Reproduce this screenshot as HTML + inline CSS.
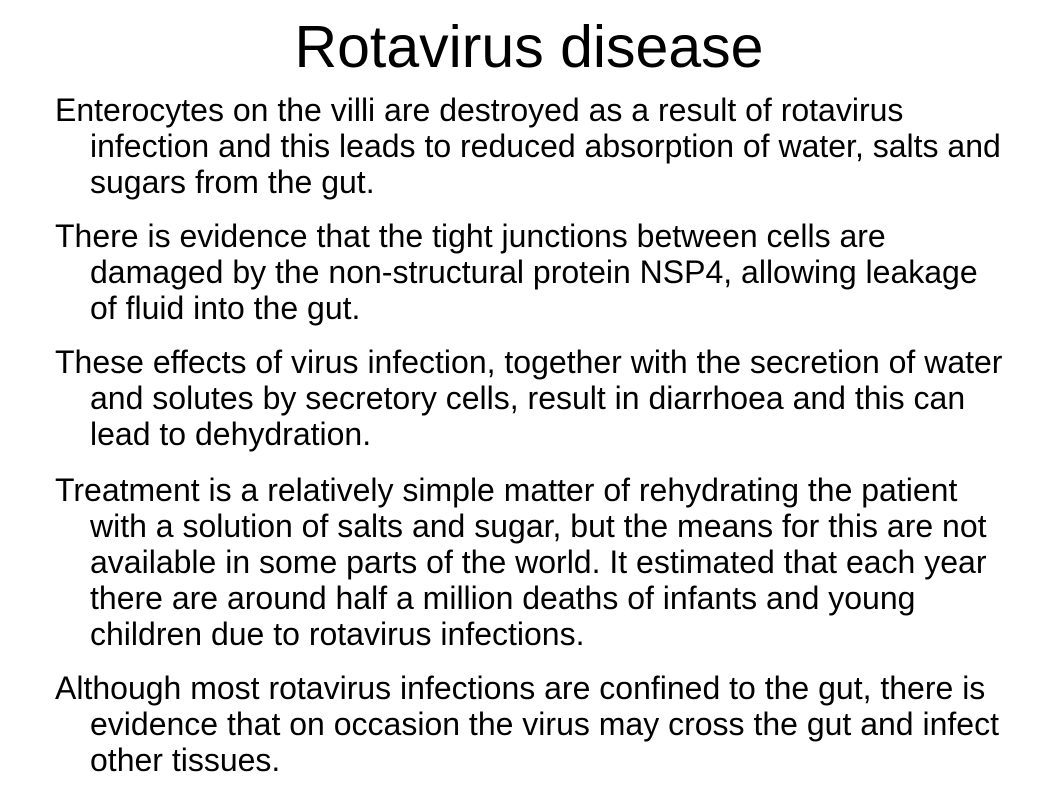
<!DOCTYPE html>
<html><head><meta charset="utf-8"><style>
body{margin:0;width:1058px;height:794px;background:#fff;overflow:hidden;position:relative;font-family:"Liberation Sans",Arial,sans-serif;color:#000}
.t{position:absolute;left:0;width:1058px;text-align:center;top:12px;font-size:59px;line-height:70px}
.l{position:absolute;font-size:32px;line-height:36px;white-space:nowrap}
.f{left:55px}.c{left:90px}
</style></head><body>
<div class="t">Rotavirus disease</div>
<div>
<div class="l f" style="top:92px">Enterocytes on the villi are destroyed as a result of rotavirus</div>
<div class="l c" style="top:128px">infection and this leads to reduced absorption of water, salts and</div>
<div class="l c" style="top:164px">sugars from the gut.</div></div>
<div>
<div class="l f" style="top:218px">There is evidence that the tight junctions between cells are</div>
<div class="l c" style="top:254px">damaged by the non-structural protein NSP4, allowing leakage</div>
<div class="l c" style="top:290px">of fluid into the gut.</div></div>
<div>
<div class="l f" style="top:344px">These effects of virus infection, together with the secretion of water</div>
<div class="l c" style="top:380px">and solutes by secretory cells, result in diarrhoea and this can</div>
<div class="l c" style="top:416px">lead to dehydration.</div></div>
<div>
<div class="l f" style="top:472px">Treatment is a relatively simple matter of rehydrating the patient</div>
<div class="l c" style="top:508px">with a solution of salts and sugar, but the means for this are not</div>
<div class="l c" style="top:544px">available in some parts of the world. It estimated that each year</div>
<div class="l c" style="top:580px">there are around half a million deaths of infants and young</div>
<div class="l c" style="top:616px">children due to rotavirus infections.</div></div>
<div>
<div class="l f" style="top:670px">Although most rotavirus infections are confined to the gut, there is</div>
<div class="l c" style="top:706px">evidence that on occasion the virus may cross the gut and infect</div>
<div class="l c" style="top:742px">other tissues.</div></div>
</body></html>
